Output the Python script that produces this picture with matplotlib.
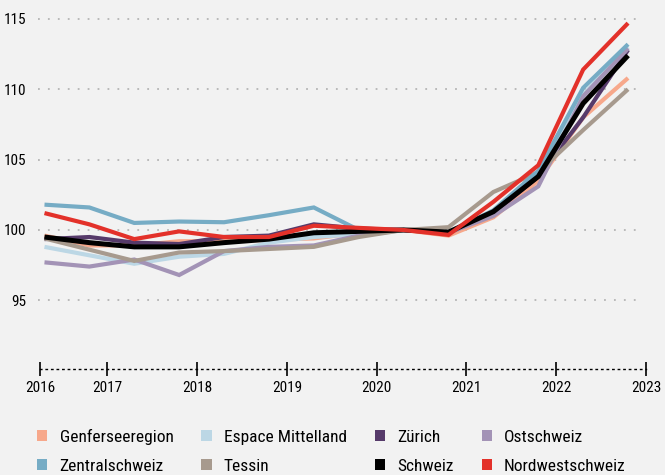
import numpy as np
import matplotlib.pyplot as plt
from matplotlib.patches import Patch

# Halbjahreswerte, Index (Basis 2020 = 100)
jahre = [2016.3, 2016.8, 2017.3, 2017.8, 2018.3, 2018.8, 2019.3,
         2019.8, 2020.3, 2020.8, 2021.3, 2021.8, 2022.3, 2022.8]

genf = [99.6, 98.9, 98.9, 99.2, 99.2, 99.3, 99.4, 99.8, 100, 99.6, 100.9, 103.5, 108.0, 110.8]
mittelland = [98.8, 98.2, 97.6, 98.1, 98.3, 99.1, 99.5, 99.7, 100, 99.8, 101.2, 104.0, 109.6, 113.0]
zuerich = [99.35, 99.5, 99.1, 99.0, 99.5, 99.6, 100.4, 100.1, 100, 99.8, 101.2, 103.8, 108.0, 112.8]
ost = [97.7, 97.4, 97.9, 96.8, 98.5, 98.8, 98.9, 99.6, 100, 99.8, 101.0, 103.1, 109.5, 112.9]
zentral = [101.8, 101.6, 100.5, 100.6, 100.55, 101.05, 101.6, 100.0, 100, 99.8, 101.4, 104.2, 110.1, 113.2]
tessin = [99.4, 98.6, 97.8, 98.4, 98.5, 98.65, 98.8, 99.5, 100, 100.2, 102.7, 104.1, 107.1, 110.0]
schweiz = [99.5, 99.1, 98.8, 98.8, 99.1, 99.35, 99.8, 99.9, 100, 99.85, 101.3, 103.8, 109.0, 112.4]
nordwest = [101.2, 100.4, 99.35, 99.9, 99.5, 99.5, 100.3, 100.15, 100, 99.65, 102.0, 104.6, 111.4, 114.7]

bg = '#f2f2f2'
plt.rcParams['font.family'] = ['Roboto Condensed', 'DejaVu Sans']

fig = plt.figure(figsize=(6.65, 4.75), dpi=100, facecolor=bg)
ax = fig.add_axes([40/665, 106/475, 606/665, 356/475], facecolor=bg)

serien = [
    ('Genferseeregion', genf, '#f7a88b', 3.0),
    ('Espace Mittelland', mittelland, '#bcd7e5', 3.0),
    ('Zürich', zuerich, '#563a6a', 3.0),
    ('Ostschweiz', ost, '#a393b6', 3.0),
    ('Tessin', tessin, '#a79a8e', 3.0),
    ('Zentralschweiz', zentral, '#76acc5', 3.0),
    ('Schweiz', schweiz, '#000000', 3.6),
    ('Nordwestschweiz', nordwest, '#e3312a', 3.0),
]
for name, werte, farbe, lw in serien:
    ax.plot(jahre, werte, color=farbe, lw=lw, solid_joinstyle='miter',
            solid_capstyle='butt', label=name)

ax.set_xlim(2016.25, 2023.0)
ax.set_ylim(90.12, 115.42)

# horizontale Hilfslinien
for v in [95, 100, 105, 110, 115]:
    ax.plot([2016.23, 2022.95], [v, v], color='#b5b5b5', lw=1.3,
            ls=(0, (1, 4.5)), zorder=0, clip_on=False)
ax.set_yticks([95, 100, 105, 110, 115])
ax.tick_params(axis='y', length=0, pad=10, labelsize=11)

# x-Achse
for s in ['top', 'right', 'left']:
    ax.spines[s].set_visible(False)
ax.spines['bottom'].set_linestyle((0, (1, 3)))
ax.spines['bottom'].set_linewidth(1.0)
ax.set_xticks([2016.25, 2017, 2018, 2019, 2020, 2021, 2022, 2023])
ax.set_xticklabels(['2016', '2017', '2018', '2019', '2020', '2021', '2022', '2023'])
ax.tick_params(axis='x', direction='inout', length=10, width=1.2, pad=4, labelsize=11)

# Legende
reihenfolge = ['Genferseeregion', 'Zentralschweiz', 'Espace Mittelland', 'Tessin',
               'Zürich', 'Schweiz', 'Ostschweiz', 'Nordwestschweiz']
farben = {n: f for n, _, f, _ in serien}
handles = [Patch(facecolor=farben[n], edgecolor='none', label=n) for n in reihenfolge]
fig.legend(handles=handles, ncol=4, loc='upper left', bbox_to_anchor=(37/665, 1 - 429/475),
           frameon=False, fontsize=12.5, handlelength=0.6, handleheight=0.6,
           handletextpad=0.7, columnspacing=1.6, labelspacing=0.8, borderaxespad=0,
           borderpad=0)

plt.savefig('out.png', dpi=100, facecolor=bg)
